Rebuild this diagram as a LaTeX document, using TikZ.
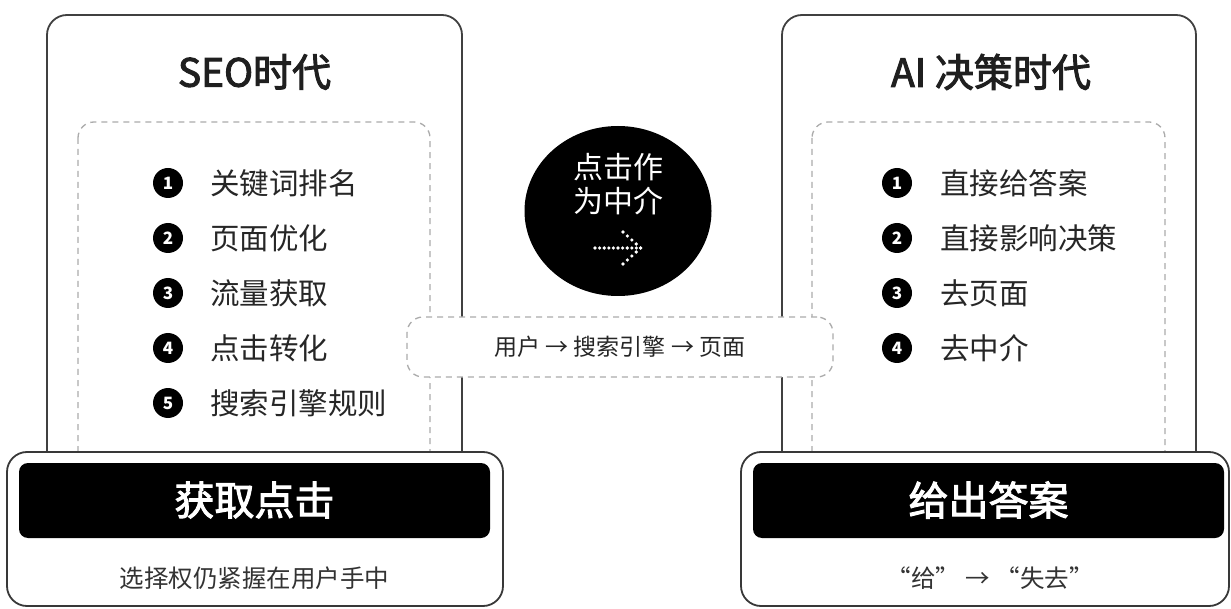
\documentclass[tikz,border=0pt]{standalone}
\usepackage{fontspec}
\setmainfont{Noto Sans CJK SC}
\newfontfamily\medfont[FakeBold=2.5]{Noto Sans CJK SC}
\usetikzlibrary{shapes.geometric}
\begin{document}
\begin{tikzpicture}[x=1pt,y=-1pt,
  outerbox/.style={draw=black!75, line width=1.8pt, rounded corners=20pt, fill=white},
  dashbox/.style={draw=black!33, line width=1.3pt, dash pattern=on 6pt off 5pt, rounded corners=16pt},
  bottombox/.style={draw=black!78, line width=1.8pt, rounded corners=20pt, fill=white},
  barbox/.style={fill=black, rounded corners=9pt},
  titletext/.style={font=\fontsize{39}{42}\selectfont\medfont, text=black!88},
  itemtext/.style={anchor=west, font=\fontsize{29.5}{32}\selectfont, text=black!85, inner sep=0pt},
  bullet/.style={circle, fill=black, text=white, inner sep=0pt, minimum size=30pt, font=\fontsize{17}{18}\selectfont\bfseries},
  bartext/.style={text=white, font=\fontsize{40}{44}\selectfont\medfont},
  subtext/.style={text=black!80, font=\fontsize{24.5}{27}\selectfont},
  dotw/.style={fill=white}
]
\useasboundingbox (0,0) rectangle (1231,609);

% outer boxes
\draw[outerbox] (47,15) rectangle (462,540);
\draw[outerbox] (782,15) rectangle (1196,540);
% dashed inner boxes
\draw[dashbox] (78,122) rectangle (430,540);
\draw[dashbox] (812,122) rectangle (1165,540);

% titles
\node[titletext] (seoT) at (254.5,72) {SEO时代};
\node[titletext] (aiT) at (991,72) {AI 决策时代};

% left items
\foreach \n/\t [count=\i] in {1/关键词排名,2/页面优化,3/流量获取,4/点击转化,5/搜索引擎规则}{
  \node[bullet] (lb\i) at (168,128+55*\i) {\n};
  \node[itemtext] (li\i) at (210,128+55*\i) {\t};
}
% right items
\foreach \n/\t [count=\i] in {1/直接给答案,2/直接影响决策,3/去页面,4/去中介}{
  \node[bullet] (rb\i) at (897,128+55*\i) {\n};
  \node[itemtext] (ri\i) at (940,128+55*\i) {\t};
}

% middle pill
\node[draw=black!33, line width=1.3pt, dash pattern=on 6pt off 5pt, rounded corners=16pt, fill=white,
      minimum width=426pt, minimum height=60pt, text=black!85, font=\fontsize{23}{26}\selectfont]
      (flow) at (620,347) {用户\ →\ 搜索引擎\ →\ 页面};

% middle circle
\node[ellipse, fill=black, minimum width=187pt, minimum height=170pt, inner sep=0pt] (mid) at (618,211) {};
\node[text=white, align=center, font=\fontsize{30}{34}\selectfont] (midT) at (618,184) {点击作\\为中介};
\foreach \k in {0,...,9}{ \fill[dotw] (595+4.6*\k,248) circle (1.8pt); }
\foreach \k in {0,...,4}{
  \fill[dotw] (623+4.4*\k,232+4*\k) circle (1.8pt);
  \fill[dotw] (623+4.4*\k,264-4*\k) circle (1.8pt);
}

% bottom boxes
\draw[bottombox] (7,452) rectangle (503,606);
\fill[barbox] (19,463) rectangle (490,538);
\node[bartext] (leftBar) at (254.5,500) {获取点击};
\node[subtext] (leftSub) at (254.5,578) {选择权仍紧握在用户手中};

\draw[bottombox] (741,452) rectangle (1229,606);
\fill[barbox] (753,463) rectangle (1224,538);
\node[bartext] (rightBar) at (988.5,500) {给出答案};
\node[subtext] (rightSub) at (990,578) {“给”\ →\ “失去”};
\end{tikzpicture}
\end{document}
